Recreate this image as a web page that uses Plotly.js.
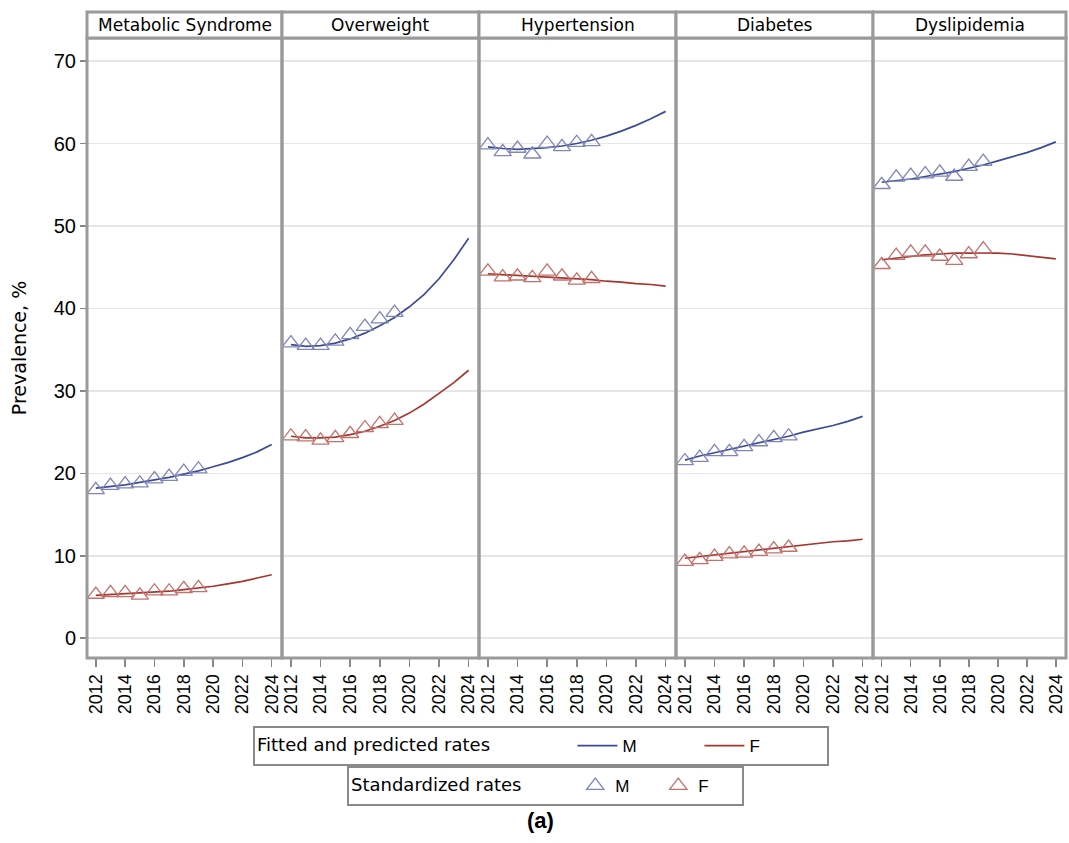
<!DOCTYPE html>
<html><head><meta charset="utf-8">
<script src="https://cdn.plot.ly/plotly-3.0.1.min.js"></script>
<style>body{margin:0;background:#fff}#chart{width:1069px;height:843px}</style>
</head><body><div id="chart"></div>
<script>
const panels = ["Metabolic Syndrome","Overweight","Hypertension","Diabetes","Dyslipidemia"];
const obsYears = [2012,2013,2014,2015,2016,2017,2018,2019];
const fitYears = [2012,2013,2014,2015,2016,2017,2018,2019,2020,2021,2022,2023,2024];

const obsM_MetS = [18.0,18.5,18.7,18.8,19.3,19.6,20.2,20.5];
const obsF_MetS = [5.3,5.5,5.5,5.2,5.7,5.7,6.0,6.1];
const fitM_MetS = [18.2,18.4,18.6,18.9,19.2,19.5,19.9,20.3,20.8,21.3,21.9,22.6,23.5];
const fitF_MetS = [5.2,5.3,5.4,5.5,5.6,5.7,5.9,6.1,6.3,6.6,6.9,7.3,7.7];

const obsM_Over = [35.8,35.5,35.5,36.0,36.8,37.8,38.7,39.5];
const obsF_Over = [24.5,24.4,24.0,24.3,24.8,25.5,26.0,26.4];
const fitM_Over = [35.6,35.4,35.5,35.8,36.3,37.0,37.9,38.9,40.2,41.7,43.6,45.9,48.5];
const fitF_Over = [24.5,24.3,24.3,24.4,24.7,25.1,25.7,26.4,27.3,28.4,29.7,31.0,32.5];

const obsM_Hyp = [59.8,59.0,59.4,58.7,60.0,59.6,60.1,60.2];
const obsF_Hyp = [44.5,43.8,43.9,43.7,44.5,43.9,43.4,43.6];
const fitM_Hyp = [59.6,59.4,59.3,59.4,59.5,59.7,60.0,60.4,60.9,61.5,62.2,63.0,63.9];
const fitF_Hyp = [44.2,44.1,44.0,43.9,43.8,43.7,43.6,43.5,43.3,43.2,43.0,42.9,42.7];

const obsM_Diab = [21.5,21.9,22.6,22.6,23.2,23.8,24.3,24.5];
const obsF_Diab = [9.3,9.5,9.9,10.2,10.3,10.5,10.8,11.0];
const fitM_Diab = [21.6,22.1,22.5,22.9,23.3,23.7,24.1,24.5,25.0,25.4,25.8,26.3,26.9];
const fitF_Diab = [9.7,9.9,10.1,10.3,10.5,10.7,10.9,11.1,11.3,11.5,11.7,11.8,12.0];

const obsM_Dys = [55.0,55.9,56.1,56.3,56.5,56.0,57.2,57.8];
const obsF_Dys = [45.3,46.4,46.8,46.8,46.3,45.8,46.6,47.2];
const fitM_Dys = [55.3,55.5,55.7,56.0,56.3,56.6,57.0,57.4,57.9,58.4,58.9,59.5,60.2];
const fitF_Dys = [45.9,46.1,46.3,46.5,46.6,46.7,46.7,46.7,46.7,46.6,46.4,46.2,46.0];

const obsM = [obsM_MetS,obsM_Over,obsM_Hyp,obsM_Diab,obsM_Dys];
const obsF = [obsF_MetS,obsF_Over,obsF_Hyp,obsF_Diab,obsF_Dys];
const fitM = [fitM_MetS,fitM_Over,fitM_Hyp,fitM_Diab,fitM_Dys];
const fitF = [fitF_MetS,fitF_Over,fitF_Hyp,fitF_Diab,fitF_Dys];
const xTicks = [2012,2014,2016,2018,2020,2022,2024];
const yTicks = [0,10,20,30,40,50,60,70];

const colLineM = "#3d4b96", colLineF = "#a5362f";
const colMarkM = "#7f86b8", colMarkF = "#c2726d";
const wideFont = "DejaVu Sans, Verdana, sans-serif";
const numFont = "Liberation Sans, Arial, sans-serif";
const nb = n => "\u00a0".repeat(n);

const W = 1069, H = 843, L = 87, R = 3, T = 12, B = 185;
const plotW = W - L - R, plotH = H - T - B;
const edgesPx = [87,282,479,676,873,1066];
const edges = edgesPx.map(p => (p - L) / plotW);
const headerH = 26;
const domTop = 1 - headerH / plotH;

const traces = [];
const layout = {
  width: W, height: H,
  margin: {l: L, r: R, t: T, b: B},
  paper_bgcolor: "#fff", plot_bgcolor: "#fff",
  font: {family: numFont, color: "#000", size: 15},
  yaxis: {
    domain: [0, domTop], range: [-2.4, 72.8], tickvals: yTicks,
    showgrid: true, gridcolor: "#e6e6e6", gridwidth: 1.5, zeroline: false,
    ticks: "outside", ticklen: 6, tickcolor: "#888", tickwidth: 1.5,
    tickfont: {size: 20, color: "#000", family: numFont}, showline: false,
    title: {text: "Prevalence, %", font: {size: 19, family: wideFont}, standoff: 22}
  },
  shapes: [], annotations: [],
  legend: {
    orientation: "h", x: (253 - L) / plotW, xanchor: "left", y: (658 - 726) / plotH, yanchor: "top",
    bordercolor: "#8a8a8a", borderwidth: 2, font: {size: 17, family: numFont},
    title: {text: "Fitted and predicted rates" + nb(13), side: "left", font: {size: 18, family: wideFont}},
    entrywidth: 72, tracegroupgap: 0, itemwidth: 40
  },
  legend2: {
    orientation: "h", x: (347 - L) / plotW, xanchor: "left", y: (658 - 766) / plotH, yanchor: "top",
    bordercolor: "#8a8a8a", borderwidth: 2, font: {size: 17, family: numFont},
    title: {text: "Standardized rates" + nb(8), side: "left", font: {size: 18, family: wideFont}},
    entrywidth: 38, itemwidth: 30
  }
};

for (let k = 0; k < 5; k++) {
  const xa = k === 0 ? "x" : "x" + (k + 1);
  const axName = k === 0 ? "xaxis" : "xaxis" + (k + 1);
  layout[axName] = {
    domain: [edges[k], edges[k + 1]], anchor: "y", range: [2011.4, 2024.7],
    tickvals: xTicks, tickangle: -90, showgrid: false, zeroline: false,
    ticks: "outside", ticklen: 8, tickcolor: "#888", tickwidth: 1.5,
    tickfont: {size: 18, color: "#000", family: numFont}, showline: false
  };
  traces.push({x: fitYears, y: fitM[k], xaxis: xa, yaxis: "y", mode: "lines",
    line: {color: colLineM, width: 1.7}, name: "M", legend: "legend",
    showlegend: k === 0, hoverinfo: "skip"});
  traces.push({x: fitYears, y: fitF[k], xaxis: xa, yaxis: "y", mode: "lines",
    line: {color: colLineF, width: 1.7}, name: "F", legend: "legend",
    showlegend: k === 0, hoverinfo: "skip"});
  traces.push({x: obsYears, y: obsM[k], xaxis: xa, yaxis: "y", mode: "markers",
    marker: {symbol: "triangle-up-open", size: 15, color: colMarkM, line: {width: 1.3}},
    name: "M", legend: "legend2", showlegend: k === 0, hoverinfo: "skip"});
  traces.push({x: obsYears, y: obsF[k], xaxis: xa, yaxis: "y", mode: "markers",
    marker: {symbol: "triangle-up-open", size: 15, color: colMarkF, line: {width: 1.3}},
    name: "F", legend: "legend2", showlegend: k === 0, hoverinfo: "skip"});

  layout.shapes.push({type: "rect", xref: "paper", yref: "paper",
    x0: edges[k], x1: edges[k + 1], y0: 0, y1: domTop,
    line: {color: "#9a9a9a", width: 3}, layer: "above"});
  layout.shapes.push({type: "rect", xref: "paper", yref: "paper",
    x0: edges[k], x1: edges[k + 1], y0: domTop, y1: 1,
    line: {color: "#9a9a9a", width: 3}, fillcolor: "#fff", layer: "above"});
  layout.annotations.push({text: panels[k], xref: "paper", yref: "paper",
    x: (edges[k] + edges[k + 1]) / 2, y: (domTop + 1) / 2, xanchor: "center", yanchor: "middle",
    showarrow: false, font: {size: 17, color: "#000", family: wideFont}});
}
layout.annotations.push({text: "<b>(a)</b>", xref: "paper", yref: "paper",
  x: (540 - L) / plotW, y: (658 - 820) / plotH, xanchor: "center", yanchor: "middle",
  showarrow: false, font: {size: 22, color: "#000", family: numFont}});

Plotly.newPlot("chart", traces, layout, {displayModeBar: false, staticPlot: true});
</script></body></html>
